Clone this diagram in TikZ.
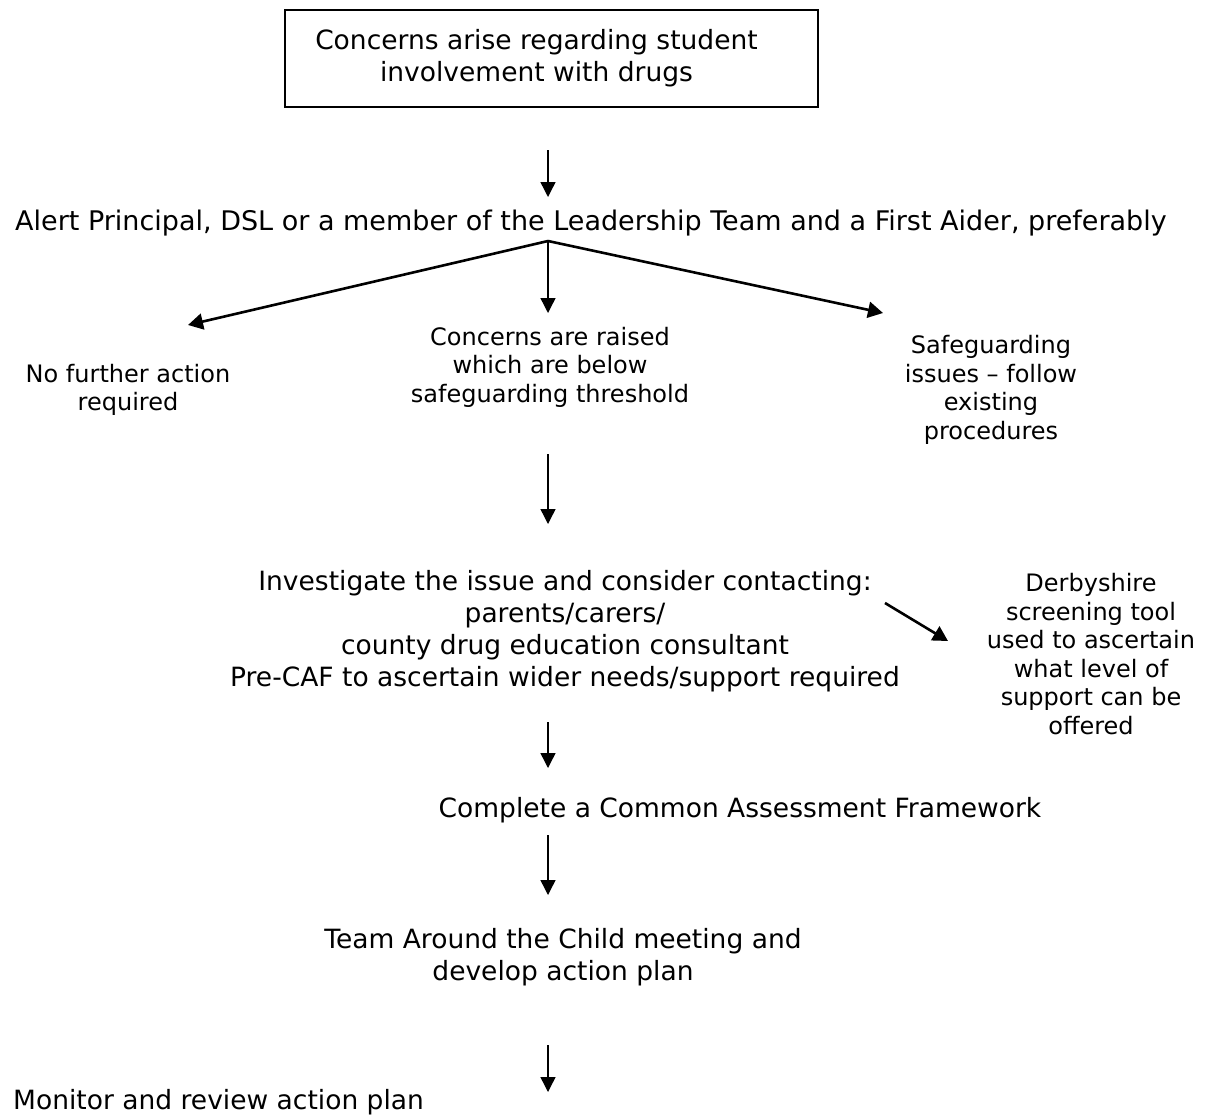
\documentclass[tikz,border=0pt]{standalone}
\usepackage{fontspec}
\setmainfont{DejaVu Sans}
\usetikzlibrary{arrows.meta}
\tikzset{
  main/.style={font=\fontsize{26.5}{32}\selectfont, align=center, inner sep=0pt},
  side/.style={font=\fontsize{24}{28.6}\selectfont, align=center, inner sep=0pt},
  thin/.style={line width=1.4pt, -{Triangle[length=15pt,width=15pt]}},
  thick/.style={line width=2.6pt, -{Triangle[length=15pt,width=16pt]}},
}
\begin{document}
\begin{tikzpicture}[x=1pt,y=-1pt]
\useasboundingbox (0,0) rectangle (1207,1117);
% top box
\node[main, draw, line width=1.8pt, minimum width=533pt, minimum height=97pt] (box) at (551.5,58.5)
  {Concerns arise regarding student\hspace*{30pt}\\involvement with drugs\hspace*{30pt}};
\node[main, font=\fontsize{27}{32}\selectfont] (alert) at (591,223) {Alert Principal, DSL or a member of the Leadership Team and a First Aider, preferably};
\node[side] (nfa) at (128,390) {No further action\\required};
\node[side] (below) at (550,367) {Concerns are raised\\which are below\\safeguarding threshold};
\node[side] (safe) at (991,390) {Safeguarding\\issues – follow\\existing\\procedures};
\node[main] (inv) at (565,631) {Investigate the issue and consider contacting:\\parents/carers/\\county drug education consultant\\Pre-CAF to ascertain wider needs/support required};
\node[side] (derby) at (1091,654) {Derbyshire\\screening tool\\used to ascertain\\what level of\\support can be\\offered};
\node[main] (caf) at (740,810) {Complete a Common Assessment Framework};
\node[main] (tac) at (563,957) {Team Around the Child meeting and\\develop action plan};
\node[main, anchor=west] (mon) at (13,1102) {Monitor and review action plan};
% connector end points
\coordinate (a1s) at (548,150);
\coordinate (a1e) at (548,197);
\coordinate (br) at (548,241);
\coordinate (bl) at (188,325);
\coordinate (bm) at (548,313);
\coordinate (bri) at (883,313);
\coordinate (a2s) at (548,454);
\coordinate (a2e) at (548,524);
\coordinate (ds) at (885,603);
\coordinate (de) at (948,641);
\coordinate (a3s) at (548,722);
\coordinate (a3e) at (548,768);
\coordinate (a4s) at (548,835);
\coordinate (a4e) at (548,895);
\coordinate (a5s) at (548,1045);
\coordinate (a5e) at (548,1092);
% connectors
\draw[thin] (a1s) -- (a1e);
\draw[thick] (br) -- (bl);
\draw[thin] (br) -- (bm);
\draw[thick] (br) -- (bri);
\draw[thin] (a2s) -- (a2e);
\draw[thick] (ds) -- (de);
\draw[thin] (a3s) -- (a3e);
\draw[thin] (a4s) -- (a4e);
\draw[thin] (a5s) -- (a5e);
\end{tikzpicture}
\end{document}
